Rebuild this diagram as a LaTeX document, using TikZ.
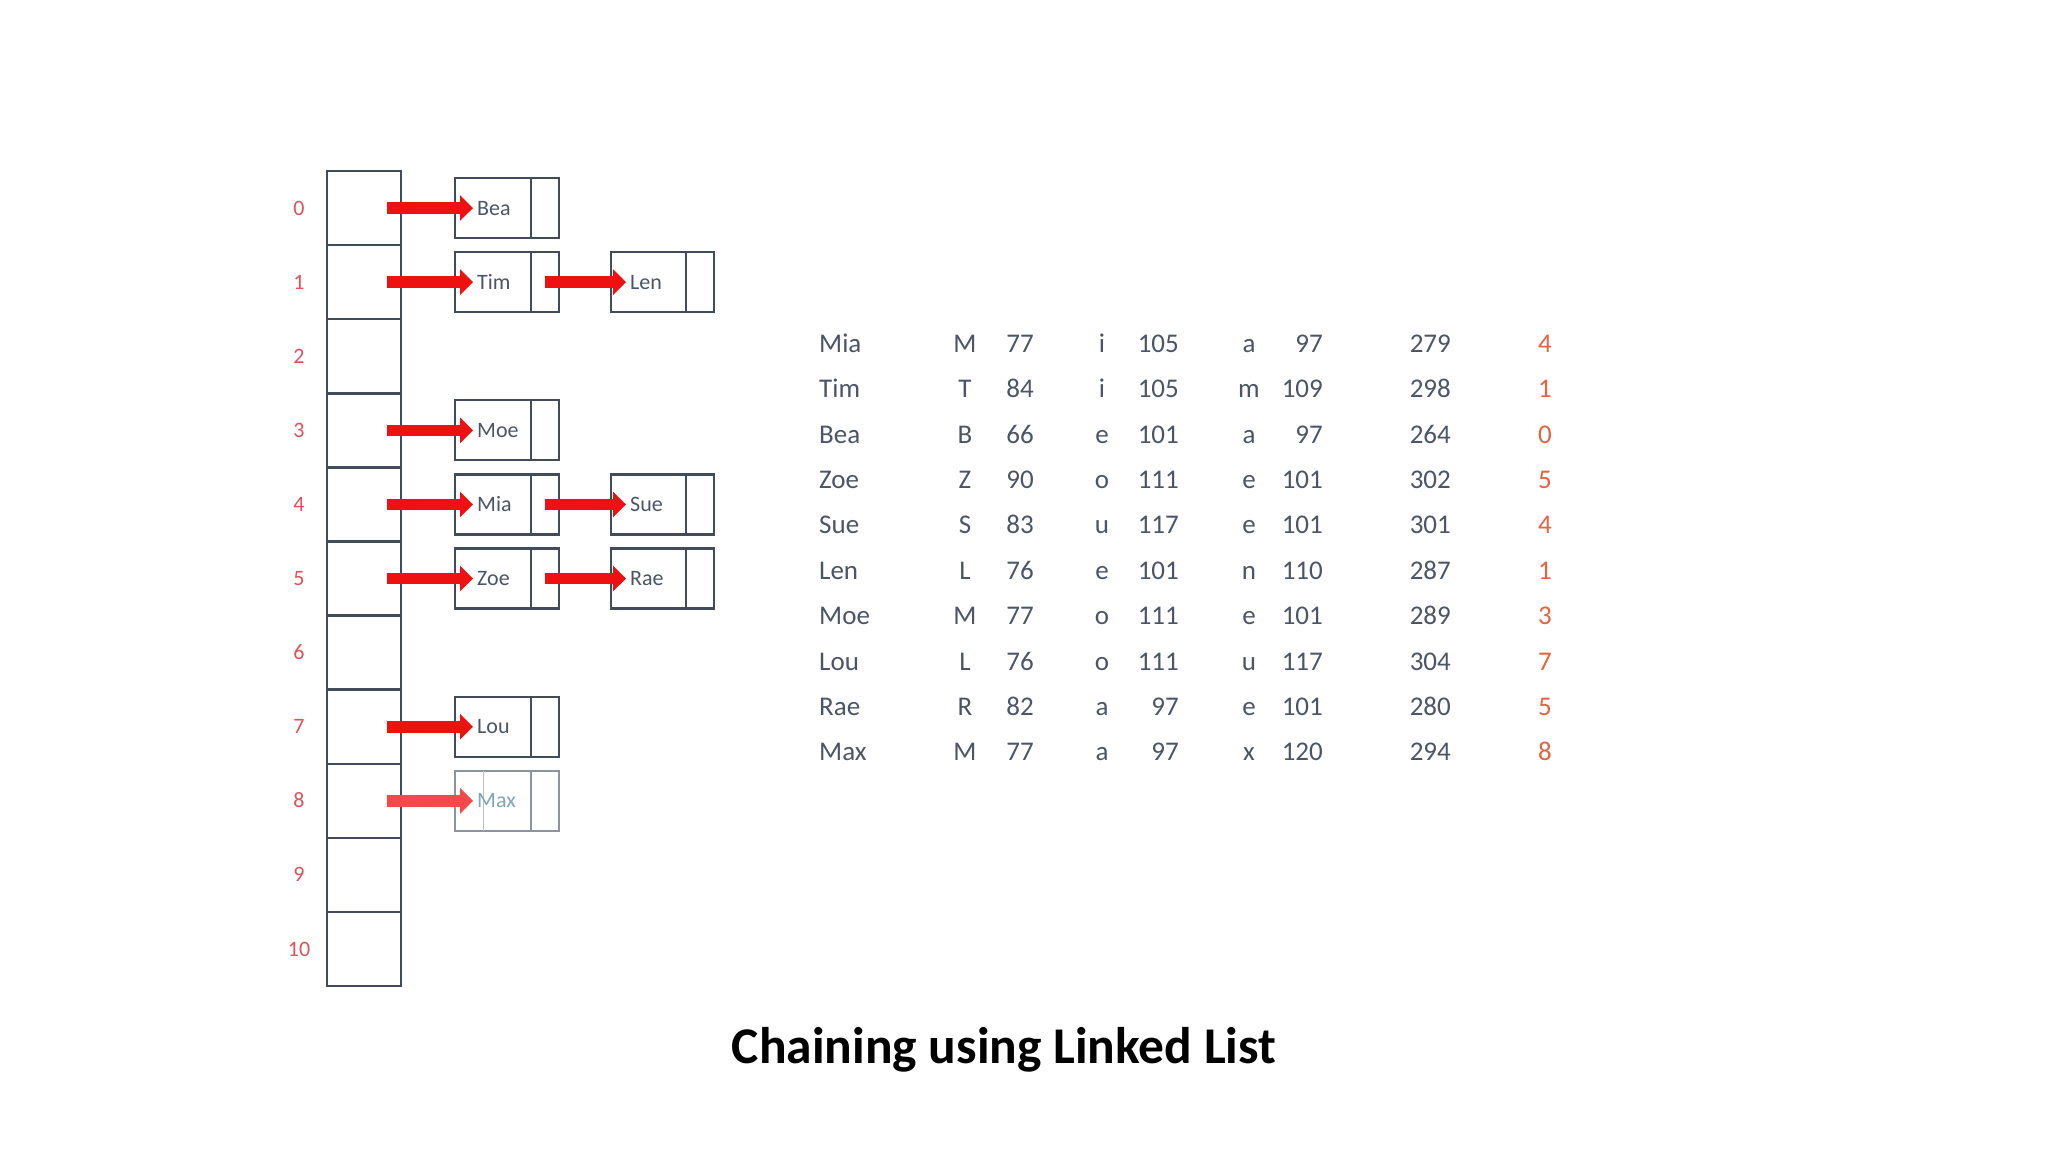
\documentclass[tikz,border=0pt]{standalone}
\usepackage{fontspec}
\setmainfont{Carlito}
\usetikzlibrary{arrows.meta}
\definecolor{linecol}{HTML}{424B5A}
\definecolor{fadecol}{HTML}{8A93A2}
\definecolor{rowcol}{HTML}{E0525A}
\definecolor{arrcol}{HTML}{EE1111}
\definecolor{arrfade}{HTML}{F04A4A}
\definecolor{txtcol}{HTML}{4B5566}
\definecolor{maxcol}{HTML}{7FA6B6}
\definecolor{idxcol}{HTML}{E5633F}
\begin{document}
\begin{tikzpicture}[x=1pt,y=-1pt,
  cell/.style={draw=linecol,line width=2.5pt,minimum width=74pt,minimum height=74.1pt,inner sep=0pt,outer sep=0pt},
  dcell/.style={draw=linecol,line width=2.2pt,minimum width=76pt,minimum height=60pt,inner sep=0pt,outer sep=0pt},
  pcell/.style={draw=linecol,line width=2.2pt,minimum width=28pt,minimum height=60pt,inner sep=0pt,outer sep=0pt},
  lab/.style={text=rowcol,font=\fontsize{22}{22}\selectfont,inner sep=0pt,text height=13.9pt,text depth=0pt},
  ntxt/.style={text=txtcol,font=\fontsize{22}{22}\selectfont,inner sep=0pt,anchor=west,text height=14.1pt,text depth=0pt},
  tt/.style={text=txtcol,font=\fontsize{27}{27}\selectfont,inner sep=0pt,text height=17.4pt,text depth=0pt},
  ptr/.style={draw=arrcol,line width=11.5pt,shorten >=4pt,-{Triangle[length=13pt,width=25pt]}},
]
\useasboundingbox (0,0) rectangle (2048,1152);
\fill[white] (0,0) rectangle (2048,1152);

% hash table array
\foreach \i in {0,...,10}{
  \node[cell] (a\i) at (364,208.05+74.1*\i) {};
  \node[lab] (r\i) at (299,208.05+74.1*\i) {\i};
}

% first-column list nodes
\foreach \r/\nm in {0/Bea,1/Tim,3/Moe,4/Mia,5/Zoe,7/Lou}{
  \node[dcell] (d\r) at (493,208.05+74.1*\r) {};
  \node[pcell] (p\r) at (545,208.05+74.1*\r) {};
  \node[ntxt] (t\r) at (477,208.05+74.1*\r) {\nm};
  \coordinate (s\r) at (387,208.05+74.1*\r);
  \draw[ptr] (s\r) -- (t\r.west);
}

% second-column list nodes
\foreach \r/\nm in {1/Len,4/Sue,5/Rae}{
  \node[dcell,minimum width=75pt] (e\r) at (648.5,208.05+74.1*\r) {};
  \node[pcell] (q\r) at (700,208.05+74.1*\r) {};
  \node[ntxt] (u\r) at (630,208.05+74.1*\r) {\nm};
  \draw[ptr] (p\r.center) -- (u\r.west);
}

% faded Max node (row 8)
\node[dcell,draw=fadecol,line width=1.8pt] (d8) at (493,800.85) {};
\node[pcell,draw=fadecol,line width=1.8pt] (p8) at (545,800.85) {};
\draw[fadecol!60,line width=1pt] ([xshift=28pt]d8.north west) -- ([xshift=28pt]d8.south west);
\node[ntxt,text=maxcol] (t8) at (477,800.85) {Max};
\coordinate (s8) at (387,800.85);
\draw[ptr,draw=arrfade] (s8) -- (t8.west);

% table
\foreach \nm/\la/\va/\lb/\vb/\lc/\vc/\s/\h [count=\k from 0] in {
  Mia/M/77/i/105/a/97/279/4,
  Tim/T/84/i/105/m/109/298/1,
  Bea/B/66/e/101/a/97/264/0,
  Zoe/Z/90/o/111/e/101/302/5,
  Sue/S/83/u/117/e/101/301/4,
  Len/L/76/e/101/n/110/287/1,
  Moe/M/77/o/111/e/101/289/3,
  Lou/L/76/o/111/u/117/304/7,
  Rae/R/82/a/97/e/101/280/5,
  Max/M/77/a/97/x/120/294/8}{
  \pgfmathsetmacro\yy{343.5+45.4*\k}
  \node[tt,anchor=west] (nm\k) at (819,\yy) {\nm};
  \node[tt] (la\k) at (965,\yy) {\la};
  \node[tt,anchor=east] (va\k) at (1034,\yy) {\va};
  \node[tt] (lb\k) at (1102,\yy) {\lb};
  \node[tt,anchor=east] (vb\k) at (1179,\yy) {\vb};
  \node[tt] (lc\k) at (1249,\yy) {\lc};
  \node[tt,anchor=east] (vc\k) at (1323,\yy) {\vc};
  \node[tt,anchor=east] (sm\k) at (1451,\yy) {\s};
  \node[tt,text=idxcol] (ix\k) at (1545,\yy) {\h};
}

% title
\node[font=\fontsize{51.5}{51.5}\selectfont\bfseries,inner sep=0pt,anchor=base] (title) at (1004,1063) {Chaining using Linked List};
\end{tikzpicture}
\end{document}
